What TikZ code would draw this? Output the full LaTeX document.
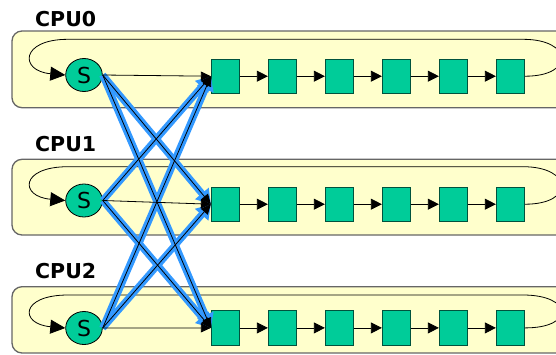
\documentclass[tikz,border=0pt]{standalone}
\usepackage{fontspec}
\setmainfont{DejaVu Sans}
\usetikzlibrary{shapes.geometric,arrows.meta}
\definecolor{panelfill}{HTML}{FFFFCC}
\definecolor{panelline}{HTML}{666666}
\definecolor{nodegreen}{HTML}{00CC99}
\definecolor{arrowblue}{HTML}{3399FF}
\begin{document}
\begin{tikzpicture}[x=1pt,y=-1pt,
 panel/.style={draw=panelline, line width=1.3pt, fill=panelfill, rounded corners=10pt},
 snode/.style={ellipse, draw=black, line width=0.8pt, fill=nodegreen, minimum width=36.6pt, minimum height=33pt, inner sep=0pt, font=\fontsize{22}{22}\selectfont},
 qnode/.style={rectangle, draw=black!60!nodegreen, line width=0.8pt, fill=nodegreen, minimum width=28.5pt, minimum height=34.5pt, inner sep=0pt},
 cpulabel/.style={anchor=base west, inner sep=0pt, font=\fontsize{20.5}{20.5}\selectfont\bfseries},
 chain/.style={-{Triangle[length=11pt,width=11pt]}, line width=0.8pt},
 looparrow/.style={-{Triangle[length=15pt,width=14pt]}, line width=0.8pt},
 bluelink/.style={draw=arrowblue, line width=7pt, -{Triangle[length=14pt,width=17pt]}},
 blacklink/.style={draw=black, line width=0.8pt, -{Triangle[length=10pt,width=9pt]}},
]
\clip (0,0) rectangle (556,354);

% panels
\path[panel] (12,31) rectangle (600,107.7);
\path[panel] (12,159.3) rectangle (600,235);
\path[panel] (12,286.7) rectangle (600,353);

% labels
\node[cpulabel] (C0) at (35,26) {CPU0};
\node[cpulabel] (C1) at (35,151.5) {CPU1};
\node[cpulabel] (C2) at (35,278.5) {CPU2};

% nodes
\node[snode] (S0) at (84,75) {S};
\node[snode] (S1) at (84,200.5) {S};
\node[snode] (S2) at (84,328) {S};

\foreach \r/\y in {0/76.2,1/204.2,2/327.9}{
  \foreach \c/\x in {a/225.5,b/282.5,c/339.5,d/396.5,e/453.5,f/510.5}{
    \node[qnode] (Q\r\c) at (\x,\y) {};
  }
  \draw[chain] (Q\r a) -- (Q\r b);
  \draw[chain] (Q\r b) -- (Q\r c);
  \draw[chain] (Q\r c) -- (Q\r d);
  \draw[chain] (Q\r d) -- (Q\r e);
  \draw[chain] (Q\r e) -- (Q\r f);
}

% loop-back lines
\coordinate (T0) at (523,39.3);  \coordinate (L0) at (68,39.3);
\coordinate (T1) at (523,166.7); \coordinate (L1) at (68,166.7);
\coordinate (T2) at (523,295);   \coordinate (L2) at (68,295);
\draw[looparrow] (Q0f.east) .. controls +(50,0) and +(50,0) .. (T0) -- (L0) .. controls +(-48,0) and +(-46,-4) .. (S0.west);
\draw[looparrow] (Q1f.east) .. controls +(50,0) and +(50,0) .. (T1) -- (L1) .. controls +(-48,0) and +(-46,-4) .. (S1.west);
\draw[looparrow] (Q2f.east) .. controls +(50,0) and +(50,0) .. (T2) -- (L2) .. controls +(-48,0) and +(-46,-4) .. (S2.west);

% blue cross links
\draw[bluelink] (S0.east) -- (Q1a.west);
\draw[bluelink] (S0.east) -- (Q2a.west);
\draw[bluelink] (S1.east) -- (Q0a.west);
\draw[bluelink] (S1.east) -- (Q2a.west);
\draw[bluelink] (S2.east) -- (Q0a.west);
\draw[bluelink] (S2.east) -- (Q1a.west);

% black links
\draw[blacklink] (S0.east) -- (Q0a.west);
\draw[blacklink] (S1.east) -- (Q1a.west);
\draw[blacklink] (S2.east) -- (Q2a.west);
\draw[blacklink] (S0.east) -- (Q1a.west);
\draw[blacklink] (S0.east) -- (Q2a.west);
\draw[blacklink] (S1.east) -- (Q0a.west);
\draw[blacklink] (S1.east) -- (Q2a.west);
\draw[blacklink] (S2.east) -- (Q0a.west);
\draw[blacklink] (S2.east) -- (Q1a.west);
\end{tikzpicture}
\end{document}
